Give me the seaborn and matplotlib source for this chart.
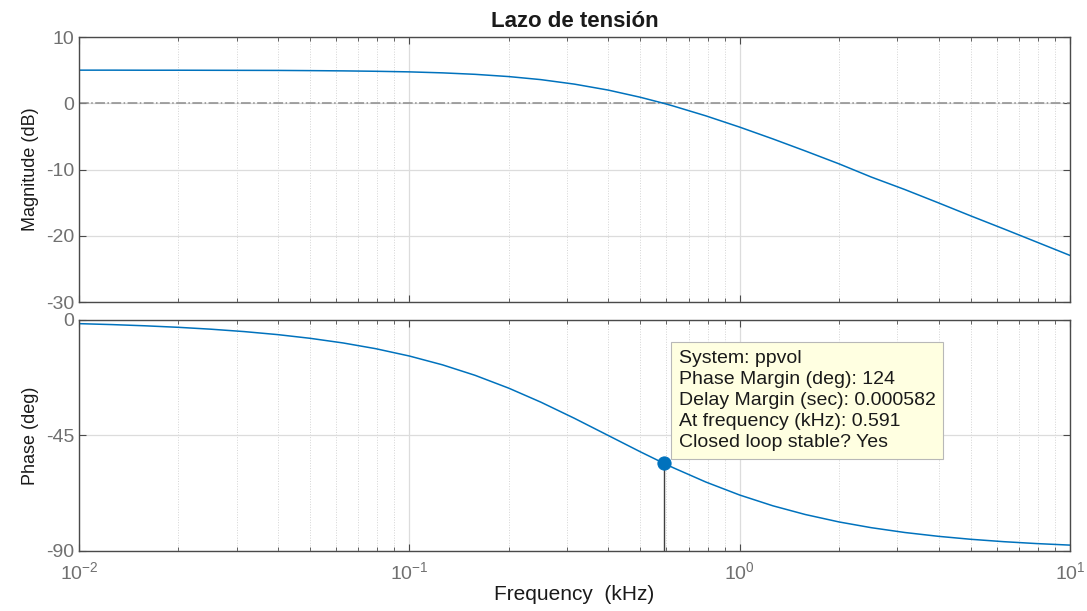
import matplotlib
matplotlib.use("Agg")
import matplotlib.pyplot as plt
import matplotlib.ticker as mticker
import seaborn as sns
import pandas as pd

# Frequency points (kHz)
freq_khz = [0.01, 0.0126, 0.0158, 0.02, 0.025, 0.0316, 0.04, 0.05, 0.063, 0.079,
            0.1, 0.126, 0.158, 0.2, 0.25, 0.316, 0.4, 0.5, 0.591, 0.63, 0.79,
            1.0, 1.26, 1.58, 2.0, 2.5, 3.16, 4.0, 5.0, 6.3, 7.9, 10.0]

# Magnitude (dB)
mag_db = [5.00, 5.00, 4.99, 4.99, 4.98, 4.97, 4.96, 4.93, 4.89, 4.83,
          4.74, 4.59, 4.37, 4.03, 3.57, 2.89, 1.99, 0.91, -0.03, -0.42, -1.90,
          -3.60, -5.38, -7.20, -9.15, -11.13, -13.02, -15.04, -16.99, -18.96,
          -20.92, -22.97]

# Phase (deg)
phase_deg = [-1.43, -1.80, -2.26, -2.86, -3.58, -4.52, -5.71, -7.13, -8.95, -11.17,
             -14.04, -17.48, -21.55, -26.57, -32.01, -38.31, -45.0, -51.34, -55.91,
             -57.59, -63.14, -68.20, -72.39, -75.79, -78.69, -80.91, -82.79, -84.29,
             -85.43, -86.37, -87.10, -87.71]

# Phase margin marker
pm_freq = 0.591
pm_phase = -55.9

info_lines = [
    "System: ppvol",
    "Phase Margin (deg): 124",
    "Delay Margin (sec): 0.000582",
    "At frequency (kHz): 0.591",
    "Closed loop stable? Yes",
]

df = pd.DataFrame({"freq": freq_khz, "mag": mag_db, "phase": phase_deg})

sns.set_style("ticks")
plt.rcParams['font.family'] = ['Liberation Sans', 'DejaVu Sans']
plt.rcParams['axes.unicode_minus'] = False

line_color = "#0072BD"
tick_color = "#707070"
spine_color = "#4a4a4a"

fig = plt.figure(figsize=(10.87, 6.11), dpi=100)
ax1 = fig.add_axes([0.0727, 0.5057, 0.9117, 0.4337])
ax2 = fig.add_axes([0.0727, 0.0982, 0.9117, 0.3781])

for ax in (ax1, ax2):
    ax.set_xscale("log")
    ax.set_xlim(0.01, 10)
    ax.xaxis.set_minor_locator(mticker.LogLocator(base=10, subs=range(2, 10), numticks=20))
    ax.grid(True, which="major", color="#dcdcdc", linewidth=0.9, linestyle="-")
    ax.grid(True, which="minor", color="#d4d4d4", linewidth=0.7, linestyle=":")
    ax.tick_params(which="both", direction="in", top=True, right=True,
                   colors=spine_color, labelcolor=tick_color, labelsize=14)
    ax.tick_params(which="major", length=5)
    ax.tick_params(which="minor", length=3)
    for sp in ax.spines.values():
        sp.set_color(spine_color)
        sp.set_linewidth(1.0)
    ax.set_axisbelow(True)

# Magnitude
ax1.axhline(0, color="#8c8c8c", linestyle="-.", linewidth=1.1)
sns.lineplot(data=df, x="freq", y="mag", ax=ax1, color=line_color,
             linewidth=1.1, sort=False, estimator=None)
ax1.set_ylim(-30, 10)
ax1.set_yticks([10, 0, -10, -20, -30])
ax1.tick_params(axis="x", which="both", labelbottom=False)
ax1.set_xlabel("")
ax1.set_ylabel("Magnitude (dB)", fontsize=13, color="#1a1a1a", labelpad=5)
ax1.set_title("Lazo de tensión", fontsize=16, fontweight="bold", color="#1a1a1a", pad=7)

# Phase
sns.lineplot(data=df, x="freq", y="phase", ax=ax2, color=line_color,
             linewidth=1.1, sort=False, estimator=None)
ax2.plot([pm_freq, pm_freq], [-90, pm_phase], color="#404040", linewidth=1.0)
sns.scatterplot(x=[pm_freq], y=[pm_phase], ax=ax2, color=line_color, s=90,
                edgecolor=line_color, zorder=5)
ax2.set_ylim(-90, 0)
ax2.set_yticks([0, -45, -90])
ax2.xaxis.set_major_locator(mticker.LogLocator(base=10, numticks=10))
ax2.xaxis.set_major_formatter(mticker.LogFormatterSciNotation())
ax2.tick_params(axis="x", which="major", pad=7)
ax2.set_xlabel("Frequency  (kHz)", fontsize=15, color="#1a1a1a", labelpad=2)
ax2.set_ylabel("Phase (deg)", fontsize=13, color="#1a1a1a", labelpad=5)

ax2.text(0.605, 0.872, "\n".join(info_lines), transform=ax2.transAxes,
         fontsize=14, color="#1a1a1a", va="top", ha="left", linespacing=1.32,
         bbox=dict(boxstyle="square,pad=0.4", facecolor="#ffffe1",
                   edgecolor="#b8b8b8", linewidth=0.8), zorder=6)

fig.align_ylabels([ax1, ax2])
fig.savefig("out.png", dpi=100)
